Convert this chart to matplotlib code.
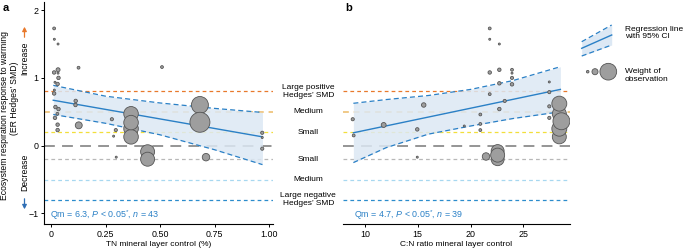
import numpy as np
import matplotlib
matplotlib.use("Agg")
import matplotlib.pyplot as plt
from matplotlib.transforms import blended_transform_factory

plt.rcParams['font.family'] = ['Liberation Sans', 'DejaVu Sans']
plt.rcParams['mathtext.fontset'] = 'custom'
plt.rcParams['mathtext.rm'] = 'Liberation Sans'
plt.rcParams['mathtext.it'] = 'Liberation Sans:italic'

# panel a: TN mineral layer control (%)
tn_x = [0.014, 0.015, 0.032, 0.032, 0.014, 0.032, 0.034, 0.018, 0.030, 0.015,
        0.014, 0.126, 0.113, 0.112, 0.020, 0.034, 0.029, 0.018, 0.030, 0.030,
        0.127, 0.279, 0.297, 0.287, 0.299, 0.509, 0.367, 0.367, 0.367, 0.367,
        0.443, 0.443, 0.683, 0.683, 0.711, 0.969, 0.969, 0.969]
tn_y = [1.73, 1.57, 1.50, 1.12, 1.08, 1.07, 1.00, 0.935, 0.91, 0.82,
        0.77, 1.15, 0.66, 0.60, 0.57, 0.54, 0.47, 0.41, 0.31, 0.23,
        0.30, 0.39, 0.23, 0.14, -0.17, 1.16, 0.47, 0.34, 0.25, 0.13,
        -0.09, -0.20, 0.60, 0.345, -0.17, 0.19, 0.12, -0.045]
tn_w = [2, 1, 1, 4, 3, 1, 3, 1, 3, 1,
        3, 2, 3, 3, 3, 3, 2, 3, 3, 3,
        12, 2.5, 2.5, 1, 1, 2, 53, 53, 53, 53,
        49, 49, 72, 100, 14, 2.5, 1, 2.5]
tn_line_x = [0.01, 0.97]
tn_line_y = [0.67, 0.13]
tn_ci_x = [0.01, 0.25, 0.50, 0.75, 0.97]
tn_ci_hi = [0.89, 0.73, 0.63, 0.55, 0.49]
tn_ci_lo = [0.46, 0.33, 0.16, -0.06, -0.28]

# panel b: C:N ratio mineral layer control
cn_x = [8.84, 8.93, 11.77, 15.56, 14.95, 14.95, 21.81, 21.81, 22.72, 21.81,
        22.72, 23.92, 23.92, 23.92, 22.72, 23.92, 21.81, 23.23, 27.45, 27.45,
        22.72, 27.45, 27.45, 20.92, 20.92, 20.92, 19.4, 28.4, 28.4, 28.6,
        28.4, 28.4, 22.56, 22.56, 22.56, 21.46]
cn_y = [0.39, 0.15, 0.305, 0.60, 0.24, -0.17, 1.73, 1.57, 1.50, 1.08,
        1.12, 1.12, 1.07, 1.00, 0.92, 0.905, 0.76, 0.66, 0.94, 0.79,
        0.54, 0.58, 0.41, 0.46, 0.32, 0.23, 0.29, 0.62, 0.47, 0.36,
        0.25, 0.13, -0.08, -0.14, -0.20, -0.16]
cn_w = [2.5, 2, 6, 5, 3, 1, 2, 1, 1, 3,
        3, 2, 1, 2.5, 3, 3, 2, 2.5, 1, 2.5,
        3, 2.5, 2.5, 2, 2, 2, 1, 56, 49, 72,
        56, 49, 42, 49, 42, 14]
cn_line_x = [8.9, 28.5]
cn_line_y = [0.19, 0.83]
cn_ci_x = [8.9, 12, 16, 20, 24, 28.5]
cn_ci_hi = [0.625, 0.68, 0.74, 0.83, 0.96, 1.165]
cn_ci_lo = [-0.25, -0.03, 0.17, 0.29, 0.40, 0.50]

# effect size thresholds
ref_y = [0.8, 0.5, 0.2, 0, -0.2, -0.5, -0.8]
ref_col = ['#e8792c', '#f0c987', '#f2df3a', '#8c8c8c', '#b8b8b8', '#a8d8f0', '#2b8ccc']
ref_lab = ["Large positive\nHedges\u2019 SMD", "Medium", "Small", None, "Small",
           "Medium", "Large negative\nHedges\u2019 SMD"]

blue = '#2a80c6'
band = '#dce8f4'
fs = 6.0
tfs = 6.4

fig = plt.figure(figsize=(6.85, 2.5), dpi=100)
ax_a = fig.add_axes((0.0647, 0.103, 0.3334, 0.889))
ax_b = fig.add_axes((0.5003, 0.103, 0.3318, 0.889))


def draw_panel(ax, x, y, w, lx, ly, cx, chi, clo):
    for yv, c in zip(ref_y, ref_col):
        if yv == 0:
            ax.axhline(yv, color=c, lw=1.3, dashes=(6, 4), zorder=1)
        elif yv == 0.5:
            ax.axhline(yv, color=c, lw=1.4, dashes=(3, 2.5), zorder=1)
        else:
            ax.axhline(yv, color=c, lw=0.9, dashes=(3, 2.5), zorder=1)
    ax.fill_between(cx, clo, chi, color=band, alpha=0.85, lw=0, zorder=2)
    ax.plot(cx, chi, color=blue, lw=0.9, dashes=(4, 2.5), zorder=3)
    ax.plot(cx, clo, color=blue, lw=0.9, dashes=(4, 2.5), zorder=3)
    ax.plot(lx, ly, color=blue, lw=1.0, zorder=3)
    s = np.array(w) * 2.07
    order = np.argsort(s)
    ax.scatter(np.array(x)[order], np.array(y)[order], s=s[order], c='#9e9e9e',
               edgecolors='#555555', linewidths=0.6, zorder=4)
    ax.set_ylim(-1.16, 2.12)
    for sp in ['top', 'right']:
        ax.spines[sp].set_visible(False)
    ax.tick_params(labelsize=tfs, length=2.5, width=0.7, pad=1.5)
    ax.spines['bottom'].set_linewidth(0.8)
    ax.spines['left'].set_linewidth(0.8)


draw_panel(ax_a, tn_x, tn_y, tn_w, tn_line_x, tn_line_y, tn_ci_x, tn_ci_hi, tn_ci_lo)
draw_panel(ax_b, cn_x, cn_y, cn_w, cn_line_x, cn_line_y, cn_ci_x, cn_ci_hi, cn_ci_lo)

ax_a.set_xlim(-0.031, 1.017)
ax_a.set_xticks([0, 0.25, 0.5, 0.75, 1.0])
ax_a.set_xticklabels(['0', '0.25', '0.50', '0.75', '1.00'])
ax_a.set_yticks([-1, 0, 1, 2])
ax_a.set_yticklabels(['\u22121', '0', '1', '2'])
ax_a.set_xlabel('TN mineral layer control (%)', fontsize=fs, labelpad=1.5)

ax_b.set_xlim(7.89, 29.41)
ax_b.set_xticks([10, 15, 20, 25])
ax_b.spines['left'].set_visible(False)
ax_b.set_yticks([])
ax_b.set_xlabel('C:N ratio mineral layer control', fontsize=fs, labelpad=1.5)

ax_a.text(-0.005, -1.02, r'Qm = 6.3, $\it{P}$ < 0.05$^{*}$, $\it{n}$ = 43', color=blue,
          fontsize=tfs, va='center', ha='left')
ax_b.text(8.96, -1.02, r'Qm = 4.7, $\it{P}$ < 0.05$^{*}$, $\it{n}$ = 39', color=blue,
          fontsize=tfs, va='center', ha='left')

# threshold labels between panels
tr = blended_transform_factory(fig.transFigure, ax_a.transData)
for yv, lab in zip(ref_y, ref_lab):
    if lab:
        fig.text(308.3 / 685, yv, lab, transform=tr, ha='center', va='center',
                 fontsize=fs, linespacing=1.15)

# y label and direction hints
fig.text(5 / 685, 1 - 116 / 250, 'Ecosystem respiration response to warming',
         rotation=90, ha='center', va='center', fontsize=fs + 0.2)
fig.text(15 / 685, 1 - 98 / 250, '(ER Hedges\u2019 SMD)',
         rotation=90, ha='center', va='center', fontsize=fs + 0.2)
fig.text(25 / 685, 1 - 58 / 250, 'Increase', rotation=90, ha='center',
         va='center', fontsize=fs + 0.2)
fig.text(25 / 685, 1 - 172 / 250, 'Decrease', rotation=90, ha='center',
         va='center', fontsize=fs + 0.2)
fig.add_artist(matplotlib.patches.FancyArrowPatch(
    (24.5 / 685, 1 - 40 / 250), (24.5 / 685, 1 - 24 / 250), transform=fig.transFigure,
    arrowstyle='-|>,head_length=2.5,head_width=1.3', color='#e8792c', lw=0.9))
fig.add_artist(matplotlib.patches.FancyArrowPatch(
    (24.5 / 685, 1 - 196 / 250), (24.5 / 685, 1 - 212 / 250), transform=fig.transFigure,
    arrowstyle='-|>,head_length=2.5,head_width=1.3', color='#2f6fb5', lw=0.9))

fig.text(3 / 685, 1 - 8 / 250, 'a', fontsize=8, fontweight='bold', va='center')
fig.text(345 / 685, 1 - 8 / 250, 'b', fontsize=8, fontweight='bold', va='center')

# legend
leg = fig.add_axes((578 / 685, 1 - 80 / 250, 40 / 685, 60 / 250))
leg.set_xlim(578, 618)
leg.set_ylim(80, 20)
leg.axis('off')
lgx = [581.7, 611.7]
leg.fill_between(lgx, [41.7, 25], [56, 45], color=band, lw=0)
leg.plot(lgx, [41.7, 25], color=blue, lw=0.9, dashes=(4, 2.5))
leg.plot(lgx, [56, 45], color=blue, lw=0.9, dashes=(4, 2.5))
leg.plot(lgx, [48.3, 35], color=blue, lw=1.0)
leg.scatter([587.7, 595, 608.3], [71.7, 71.7, 71.7], s=[3.5, 19, 145], c='#9e9e9e',
            edgecolors='#555555', linewidths=0.6, clip_on=False)
fig.text(625 / 685, 1 - 33 / 250, 'Regression line\nwith 95% CI', fontsize=fs,
         va='center', ha='left', linespacing=1.1)
fig.text(625 / 685, 1 - 75.5 / 250, 'Weight of\nobservation', fontsize=fs,
         va='center', ha='left', linespacing=1.1)

fig.savefig('out.png', dpi=100)
